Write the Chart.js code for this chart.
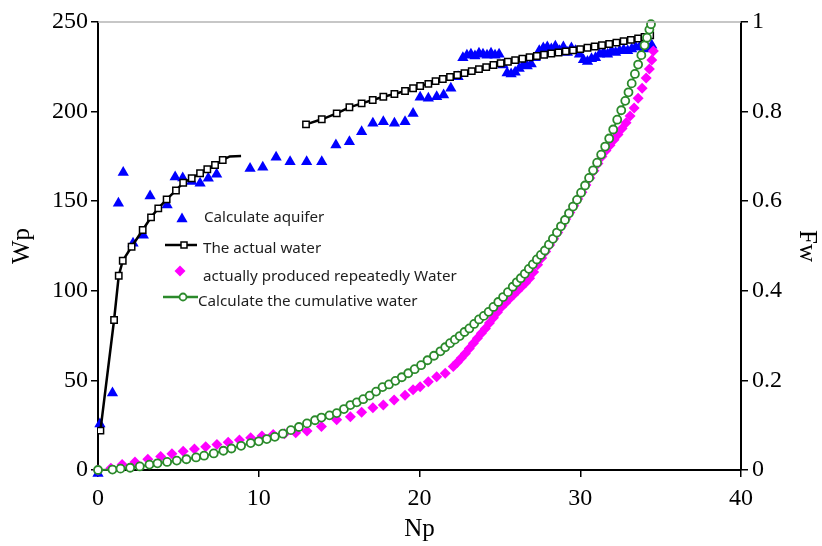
<!DOCTYPE html>
<html>
<head>
<meta charset="utf-8">
<title>Wp / Fw vs Np</title>
<script src="https://cdn.jsdelivr.net/npm/chart.js@4.4.1/dist/chart.umd.min.js"></script>
<style>
  html, body { margin: 0; padding: 0; background: #fff; }
  #wrap { position: relative; width: 822px; height: 546px; }
</style>
</head>
<body>
<div id="wrap"><canvas id="chart"></canvas></div>
<script>
// values
var npTicks = [0, 10, 20, 30, 40];
var wpTicks = [0, 50, 100, 150, 200, 250];
var fwTicks = [0, 0.2, 0.4, 0.6, 0.8, 1];

// Calculate aquifer (left axis, Wp)
var aquiferNp = [0, 0.12, 0.9, 1.27, 1.57, 2.18, 2.82, 3.24, 4.3, 4.8, 5.27, 5.83, 6.35, 6.86, 7.38, 9.46, 10.25, 11.08, 11.95, 12.98,
  13.92, 14.8, 15.64, 16.4, 17.1, 17.75, 18.44, 19.1, 19.6, 20.04, 20.55, 21.07, 21.5, 21.95, 22.4, 22.7, 22.95, 23.2, 23.45, 23.7,
  23.95, 24.2, 24.45, 24.7, 24.95, 25.2, 25.45, 25.7, 25.95, 26.2, 26.45, 26.7, 26.95, 27.2, 27.45, 27.7, 27.95, 28.2, 28.45, 28.7,
  28.95, 29.2, 29.45, 29.7, 29.95, 30.2, 30.45, 30.7, 30.95, 31.2, 31.45, 31.7, 31.95, 32.2, 32.45, 32.7, 32.95, 33.2, 33.45, 33.7,
  33.95, 34.2, 34.45];
var aquiferWp = [-2, 25.7, 43, 148.8, 166, 126.5, 131, 152.9, 147.9, 163.5, 163, 161, 160, 162.8, 165, 168.3, 168.9, 174.5, 172, 172,
  172, 181.4, 183.2, 188.8, 193.5, 194.4, 193.5, 194.4, 199, 208, 207.4, 208.3, 209.3, 213, 219.5, 230, 231.5, 232, 231, 232.5,
  232, 231.5, 232.5, 231.5, 232, 226, 221.5, 221, 222, 224, 226, 225.5, 226.5, 230, 234, 235.5, 236, 235, 236.5, 234,
  236, 233, 235.5, 234, 232, 229, 228, 229.5, 230, 232, 233, 232, 234, 233, 234, 234.5, 234, 235, 236, 236,
  235, 235.5, 237];

// The actual water (left axis, Wp) - two pieces with a gap
var actualEarlyNp = [0.15, 1.0, 1.29, 1.54, 2.09, 2.78, 3.3, 3.75, 4.27, 4.85, 5.3, 5.83, 6.35, 6.8, 7.28, 7.76];
var actualEarlyWp = [22, 83.7, 108.4, 116.8, 124.6, 133.9, 141, 146, 151, 156, 160.3, 162.8, 165.6, 167.8, 170.2, 173];
var actualTailNp = [7.76, 8.2, 8.9];
var actualTailWp = [173, 175, 175.2];
var actualLateNp = [12.94, 13.92, 14.85, 15.64, 16.4, 17.09, 17.75, 18.44, 19.1, 19.6, 20.04, 20.55, 21.0, 21.45, 21.9,
  22.35, 22.8, 23.25, 23.7, 24.15, 24.6, 25.05, 25.5, 25.95, 26.4, 26.85, 27.3, 27.75, 28.2, 28.65, 29.1, 29.55, 30.0,
  30.45, 30.9, 31.35, 31.8, 32.25, 32.7, 33.15, 33.6, 34.0, 34.35];
var actualLateWp = [192.9, 195.7, 199, 202.4, 204.6, 206.5, 208.3, 209.8, 211.5, 213, 214.3, 215.5, 217, 218.2, 219.3,
  220.4, 221.5, 222.6, 223.7, 224.8, 226, 227, 227.8, 228.7, 229.5, 230.3, 231, 231.7, 232.4, 233, 233.6, 234.2, 234.9,
  235.6, 236.3, 237, 237.7, 238.5, 239.3, 240, 240.8, 241.6, 242.5];

// actually produced repeatedly Water (right axis, Fw)
var producedNp = [0, 0.8, 1.5, 2.3, 3.1, 3.9, 4.6, 5.3, 6.0, 6.7, 7.4, 8.1, 8.8, 9.5, 10.2, 10.9, 11.6, 12.3, 13.0,
  13.9, 14.85, 15.7, 16.4, 17.1, 17.75, 18.42, 19.1, 19.6, 20.04, 20.55, 21.07, 21.6, 22.1,
  22.35, 22.6, 22.85, 23.1, 23.35, 23.6, 23.85, 24.1, 24.35, 24.6, 24.85, 25.1, 25.35, 25.6, 25.85, 26.1, 26.35, 26.6,
  26.85, 27.1, 27.35, 27.6, 27.85, 28.1, 28.35, 28.6, 28.85, 29.1, 29.35, 29.6, 29.85, 30.1, 30.35, 30.6, 30.85, 31.1,
  31.35, 31.6, 31.85, 32.1, 32.35, 32.6, 32.85, 33.1, 33.35, 33.6, 33.85, 34.1, 34.3, 34.45, 34.55];
var producedFw = [0, 0.004, 0.012, 0.018, 0.024, 0.03, 0.036, 0.042, 0.047, 0.052, 0.057, 0.062, 0.067, 0.072, 0.076, 0.079, 0.081, 0.083, 0.087,
  0.097, 0.112, 0.119, 0.129, 0.139, 0.145, 0.156, 0.167, 0.179, 0.186, 0.197, 0.208, 0.216, 0.231,
  0.240, 0.250, 0.260, 0.271, 0.283, 0.294, 0.305, 0.316, 0.328, 0.340, 0.352, 0.364, 0.373, 0.382, 0.391, 0.400, 0.409, 0.418,
  0.428, 0.442, 0.458, 0.473, 0.488, 0.502, 0.516, 0.530, 0.545, 0.560, 0.575, 0.590, 0.605, 0.620, 0.636, 0.652, 0.668, 0.684,
  0.700, 0.713, 0.725, 0.737, 0.749, 0.762, 0.775, 0.790, 0.808, 0.830, 0.852, 0.875, 0.895, 0.915, 0.935];

// Calculate the cumulative water (right axis, Fw)
var cumulativeNp = [0, 0.9, 1.4, 2.0, 2.6, 3.2, 3.7, 4.3, 4.9, 5.5, 6.1, 6.6, 7.2, 7.8, 8.3, 8.9, 9.5, 10.0, 10.5, 11.0,
  11.5, 12.0, 12.5, 13.0, 13.5, 13.9, 14.4, 14.85, 15.3, 15.7, 16.1, 16.5, 16.9, 17.3, 17.7, 18.1, 18.5, 18.9, 19.3, 19.7,
  20.1, 20.5, 20.9, 21.3, 21.6, 21.9, 22.2, 22.5, 22.8, 23.1, 23.4, 23.7, 24.0, 24.3, 24.6, 24.9, 25.2, 25.5, 25.8, 26.05,
  26.3, 26.55, 26.8, 27.05, 27.3, 27.55, 27.8, 28.05, 28.3, 28.55, 28.8, 29.05, 29.3, 29.55, 29.8, 30.05, 30.3, 30.55, 30.8, 31.05,
  31.3, 31.55, 31.8, 32.05, 32.3, 32.55, 32.8, 33.0, 33.2, 33.4, 33.6, 33.8, 34.0, 34.15, 34.3, 34.4];
var cumulativeFw = [0, 0.001, 0.003, 0.005, 0.008, 0.012, 0.015, 0.018, 0.021, 0.024, 0.028, 0.032, 0.037, 0.043, 0.048, 0.054, 0.06, 0.064, 0.069, 0.074,
  0.081, 0.089, 0.096, 0.104, 0.111, 0.117, 0.122, 0.127, 0.136, 0.145, 0.151, 0.158, 0.166, 0.175, 0.185, 0.191, 0.199, 0.207, 0.216, 0.225,
  0.234, 0.245, 0.255, 0.265, 0.274, 0.283, 0.291, 0.299, 0.308, 0.316, 0.326, 0.336, 0.344, 0.353, 0.364, 0.375, 0.386, 0.397, 0.409, 0.419,
  0.428, 0.438, 0.449, 0.459, 0.470, 0.480, 0.490, 0.503, 0.516, 0.530, 0.544, 0.558, 0.573, 0.588, 0.603, 0.619, 0.635, 0.652, 0.669, 0.686,
  0.704, 0.722, 0.740, 0.760, 0.782, 0.803, 0.824, 0.843, 0.863, 0.884, 0.905, 0.926, 0.948, 0.965, 0.983, 0.995];

var BLUE = '#0000ff';
var MAGENTA = '#ff00ff';
var GREEN = '#2b8a2b';
var SERIF = '"Liberation Serif", "Times New Roman", serif';

function pairs(xs, ys) {
	var out = [];
	for (var i = 0; i < xs.length; i++) out.push({ x: xs[i], y: ys[i] });
	return out;
}
function fixedTicks(values) {
	return function(scale) {
		scale.ticks = values.map(function(v) { return { value: v }; });
	};
}

// thin grey frame line on top of the plot
var topLinePlugin = {
	id: 'topLine',
	afterDraw: function(chart) {
		var a = chart.chartArea, ctx = chart.ctx;
		ctx.save();
		ctx.strokeStyle = '#b4b4b4';
		ctx.lineWidth = 1.5;
		ctx.beginPath();
		ctx.moveTo(a.left, a.top);
		ctx.lineTo(a.right, a.top);
		ctx.stroke();
		ctx.restore();
	}
};

// legend placed inside the plot, like the original
var legendPlugin = {
	id: 'insideLegend',
	afterDraw: function(chart) {
		var ctx = chart.ctx;
		ctx.save();
		ctx.font = '15.2px "Noto Sans", sans-serif';
		ctx.textBaseline = 'middle';
		ctx.textAlign = 'left';

		// triangle
		ctx.fillStyle = BLUE;
		ctx.beginPath();
		ctx.moveTo(182, 212.5);
		ctx.lineTo(187.6, 222.3);
		ctx.lineTo(176.4, 222.3);
		ctx.closePath();
		ctx.fill();

		// black line with square
		ctx.strokeStyle = '#000';
		ctx.lineWidth = 2.5;
		ctx.beginPath();
		ctx.moveTo(165, 245);
		ctx.lineTo(197, 245);
		ctx.stroke();
		ctx.fillStyle = '#fff';
		ctx.lineWidth = 1.5;
		ctx.fillRect(181, 242, 6, 6);
		ctx.strokeRect(181, 242, 6, 6);

		// diamond
		ctx.fillStyle = MAGENTA;
		ctx.beginPath();
		ctx.moveTo(180, 265.5);
		ctx.lineTo(185.5, 271);
		ctx.lineTo(180, 276.5);
		ctx.lineTo(174.5, 271);
		ctx.closePath();
		ctx.fill();

		// green line with circle
		ctx.strokeStyle = GREEN;
		ctx.lineWidth = 2.5;
		ctx.beginPath();
		ctx.moveTo(163, 297);
		ctx.lineTo(198, 297);
		ctx.stroke();
		ctx.fillStyle = '#fff';
		ctx.lineWidth = 1.8;
		ctx.beginPath();
		ctx.arc(183, 297, 3.5, 0, Math.PI * 2);
		ctx.fill();
		ctx.stroke();

		ctx.fillStyle = '#1e1e1e';
		var ds = chart.data.datasets;
		ctx.fillText(ds[0].label, 204, 218);
		ctx.fillText(ds[1].label, 203, 249);
		ctx.fillText(ds[4].label, 203, 277);
		ctx.fillText(ds[5].label, 198, 302);
		ctx.restore();
	}
};

new Chart(document.getElementById('chart'), {
	type: 'scatter',
	data: {
		datasets: [{
			label: 'Calculate aquifer',
			data: pairs(aquiferNp, aquiferWp),
			yAxisID: 'y',
			order: 3,
			clip: false,
			pointStyle: 'triangle',
			pointRadius: 6.5,
			pointBackgroundColor: BLUE,
			pointBorderWidth: 0,
			showLine: false
		}, {
			label: 'The actual water',
			data: pairs(actualEarlyNp, actualEarlyWp),
			yAxisID: 'y',
			order: 1,
			showLine: true,
			borderColor: '#000',
			borderWidth: 2.5,
			pointStyle: 'rect',
			pointRadius: 4.5,
			pointBackgroundColor: '#fff',
			pointBorderColor: '#000',
			pointBorderWidth: 1.5
		}, {
			label: 'tail',
			data: pairs(actualTailNp, actualTailWp),
			yAxisID: 'y',
			order: 1,
			showLine: true,
			borderColor: '#000',
			borderWidth: 2.5,
			pointRadius: 0
		}, {
			label: 'The actual water (late)',
			data: pairs(actualLateNp, actualLateWp),
			yAxisID: 'y',
			order: 1,
			showLine: true,
			borderColor: '#000',
			borderWidth: 2.5,
			pointStyle: 'rect',
			pointRadius: 4.5,
			pointBackgroundColor: '#fff',
			pointBorderColor: '#000',
			pointBorderWidth: 1.5
		}, {
			label: 'actually produced repeatedly Water',
			data: pairs(producedNp, producedFw),
			yAxisID: 'y1',
			order: 2,
			clip: false,
			pointStyle: 'rectRot',
			pointRadius: 5.5,
			pointBackgroundColor: MAGENTA,
			pointBorderWidth: 0,
			showLine: false
		}, {
			label: 'Calculate the cumulative water',
			data: pairs(cumulativeNp, cumulativeFw),
			yAxisID: 'y1',
			order: 0,
			clip: false,
			showLine: true,
			borderColor: GREEN,
			borderWidth: 2,
			pointStyle: 'circle',
			pointRadius: 4,
			pointBackgroundColor: '#fff',
			pointBorderColor: GREEN,
			pointBorderWidth: 1.8
		}]
	},
	options: {
		responsive: true,
		maintainAspectRatio: false,
		animation: false,
		layout: { padding: { top: 22, left: 0, right: 0, bottom: 0 } },
		plugins: {
			legend: { display: false },
			tooltip: { enabled: false }
		},
		scales: {
			x: {
				type: 'linear',
				position: 'bottom',
				min: 0, max: 40,
				afterBuildTicks: fixedTicks(npTicks),
				afterFit: function(s) { s.height = 76; },
				border: { display: true, color: '#000', width: 2 },
				grid: { drawOnChartArea: false, drawTicks: true, color: '#000', lineWidth: 1.5, tickLength: 7 },
				ticks: { color: '#000', padding: 7, font: { family: SERIF, size: 24 } },
				title: { display: true, text: 'Np', color: '#000', font: { family: SERIF, size: 25 }, padding: { top: 0, bottom: 2 } }
			},
			y: {
				type: 'linear',
				position: 'left',
				min: 0, max: 250,
				afterBuildTicks: fixedTicks(wpTicks),
				afterFit: function(s) { s.width = 98; },
				border: { display: true, color: '#000', width: 2 },
				grid: { drawOnChartArea: false, drawTicks: true, color: '#000', lineWidth: 1.5, tickLength: 7 },
				ticks: { color: '#000', padding: 3, font: { family: SERIF, size: 24 } },
				title: { display: true, text: 'Wp', color: '#000', font: { family: SERIF, size: 25 }, padding: { top: 7, bottom: 0 } }
			},
			y1: {
				type: 'linear',
				position: 'right',
				min: 0, max: 1,
				afterBuildTicks: fixedTicks(fwTicks),
				afterFit: function(s) { s.width = 81; },
				border: { display: true, color: '#000', width: 2 },
				grid: { drawOnChartArea: false, drawTicks: true, color: '#000', lineWidth: 1.5, tickLength: 7 },
				ticks: { color: '#000', padding: 4, font: { family: SERIF, size: 24 }, callback: function(v) { return String(v); } },
				title: { display: true, text: 'Fw', color: '#000', font: { family: SERIF, size: 25 }, padding: { top: 0, bottom: 0 } }
			}
		}
	},
	plugins: [topLinePlugin, legendPlugin]
});
</script>
</body>
</html>
